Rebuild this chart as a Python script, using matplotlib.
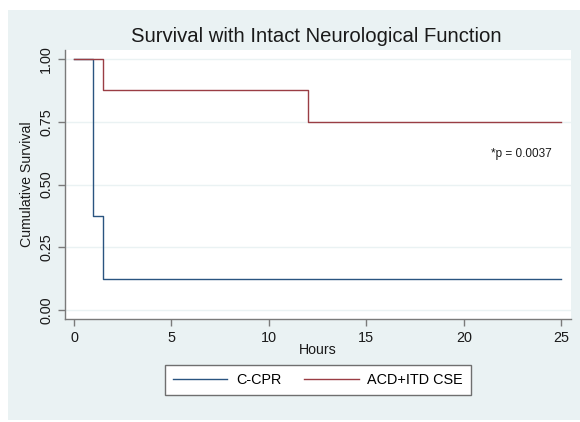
import matplotlib

matplotlib.use("Agg")
import matplotlib.pyplot as plt
from matplotlib.patches import Rectangle

# Kaplan-Meier steps
hours_ccpr = [0, 1, 1.5, 25]
surv_ccpr = [1.0, 0.375, 0.125, 0.125]
hours_acd = [0, 1.5, 12, 25]
surv_acd = [1.0, 0.875, 0.75, 0.75]

x_ticks = [0, 5, 10, 15, 20, 25]
y_ticks = [0.0, 0.25, 0.5, 0.75, 1.0]
group_labels = ["C-CPR", "ACD+ITD CSE"]
p_text = "*p = 0.0037"

plt.rcParams["font.family"] = ["Liberation Sans", "DejaVu Sans"]

W, H = 580, 422
fig = plt.figure(figsize=(W / 100, H / 100), dpi=100)
fig.patch.set_facecolor("white")

# stata-ish graph region, behind the axes
bg = Rectangle(
    (8 / W, (H - 420) / H),
    1 - 8 / W,
    (420 - 10) / H,
    transform=fig.transFigure,
    facecolor="#eaf2f3",
    edgecolor="none",
    zorder=-10,
)
fig.add_artist(bg)

ax = fig.add_axes([65 / W, (H - 319) / H, (571 - 65) / W, (319 - 50) / H])
ax.set_zorder(1)
ax.set_facecolor("white")

for y in y_ticks:
    ax.axhline(y, color="#eaf2f3", lw=1.0, zorder=1)

ax.step(hours_ccpr, surv_ccpr, where="post", color="#2a5480", lw=1.0,
        label=group_labels[0], zorder=3)
ax.step(hours_acd, surv_acd, where="post", color="#9a3d44", lw=1.0,
        label=group_labels[1], zorder=4)

ax.set_xlim(-0.46, 25.5)
ax.set_ylim(-0.036, 1.036)
ax.set_xticks(x_ticks)
ax.set_yticks(y_ticks)
ax.set_yticklabels([f"{v:.2f}" for v in y_ticks], rotation=90, va="center")

for side in ["top", "right"]:
    ax.spines[side].set_visible(False)
for side in ["left", "bottom"]:
    ax.spines[side].set_color("#7a7a7a")
    ax.spines[side].set_linewidth(1.0)

ax.tick_params(axis="both", colors="#7a7a7a", labelcolor="#1a1a1a",
               labelsize=10.4, length=5, width=1.0, direction="out")
ax.tick_params(axis="y", pad=3.5)
ax.tick_params(axis="x", pad=4)

ax.set_xlabel("Hours", fontsize=10.2, color="#1a1a1a")
ax.set_ylabel("Cumulative Survival", fontsize=10.2, color="#1a1a1a")
ax.xaxis.set_label_coords(0.5, -0.088)
ax.yaxis.set_label_coords(-0.062, 0.5)

ax.text(21.4, 0.62, p_text, fontsize=8.5, color="#1a1a1a", va="center", ha="left")

fig.text(316 / W, (H - 37) / H, "Survival with Intact Neurological Function",
         fontsize=14.6, ha="center", va="center", color="#1a1a1a")

leg = ax.legend(
    loc="center",
    bbox_to_anchor=(318 / W, (H - 380) / H),
    bbox_transform=fig.transFigure,
    ncol=2,
    fontsize=10.4,
    frameon=True,
    fancybox=False,
    handlelength=3.75,
    handletextpad=0.62,
    columnspacing=1.6,
    borderpad=0.55,
)
leg.get_frame().set_edgecolor("#6f6f6f")
leg.get_frame().set_linewidth(1.0)
leg.get_frame().set_facecolor("white")
leg.get_frame().set_alpha(1)

fig.savefig("out.png", dpi=100, facecolor=fig.get_facecolor())
